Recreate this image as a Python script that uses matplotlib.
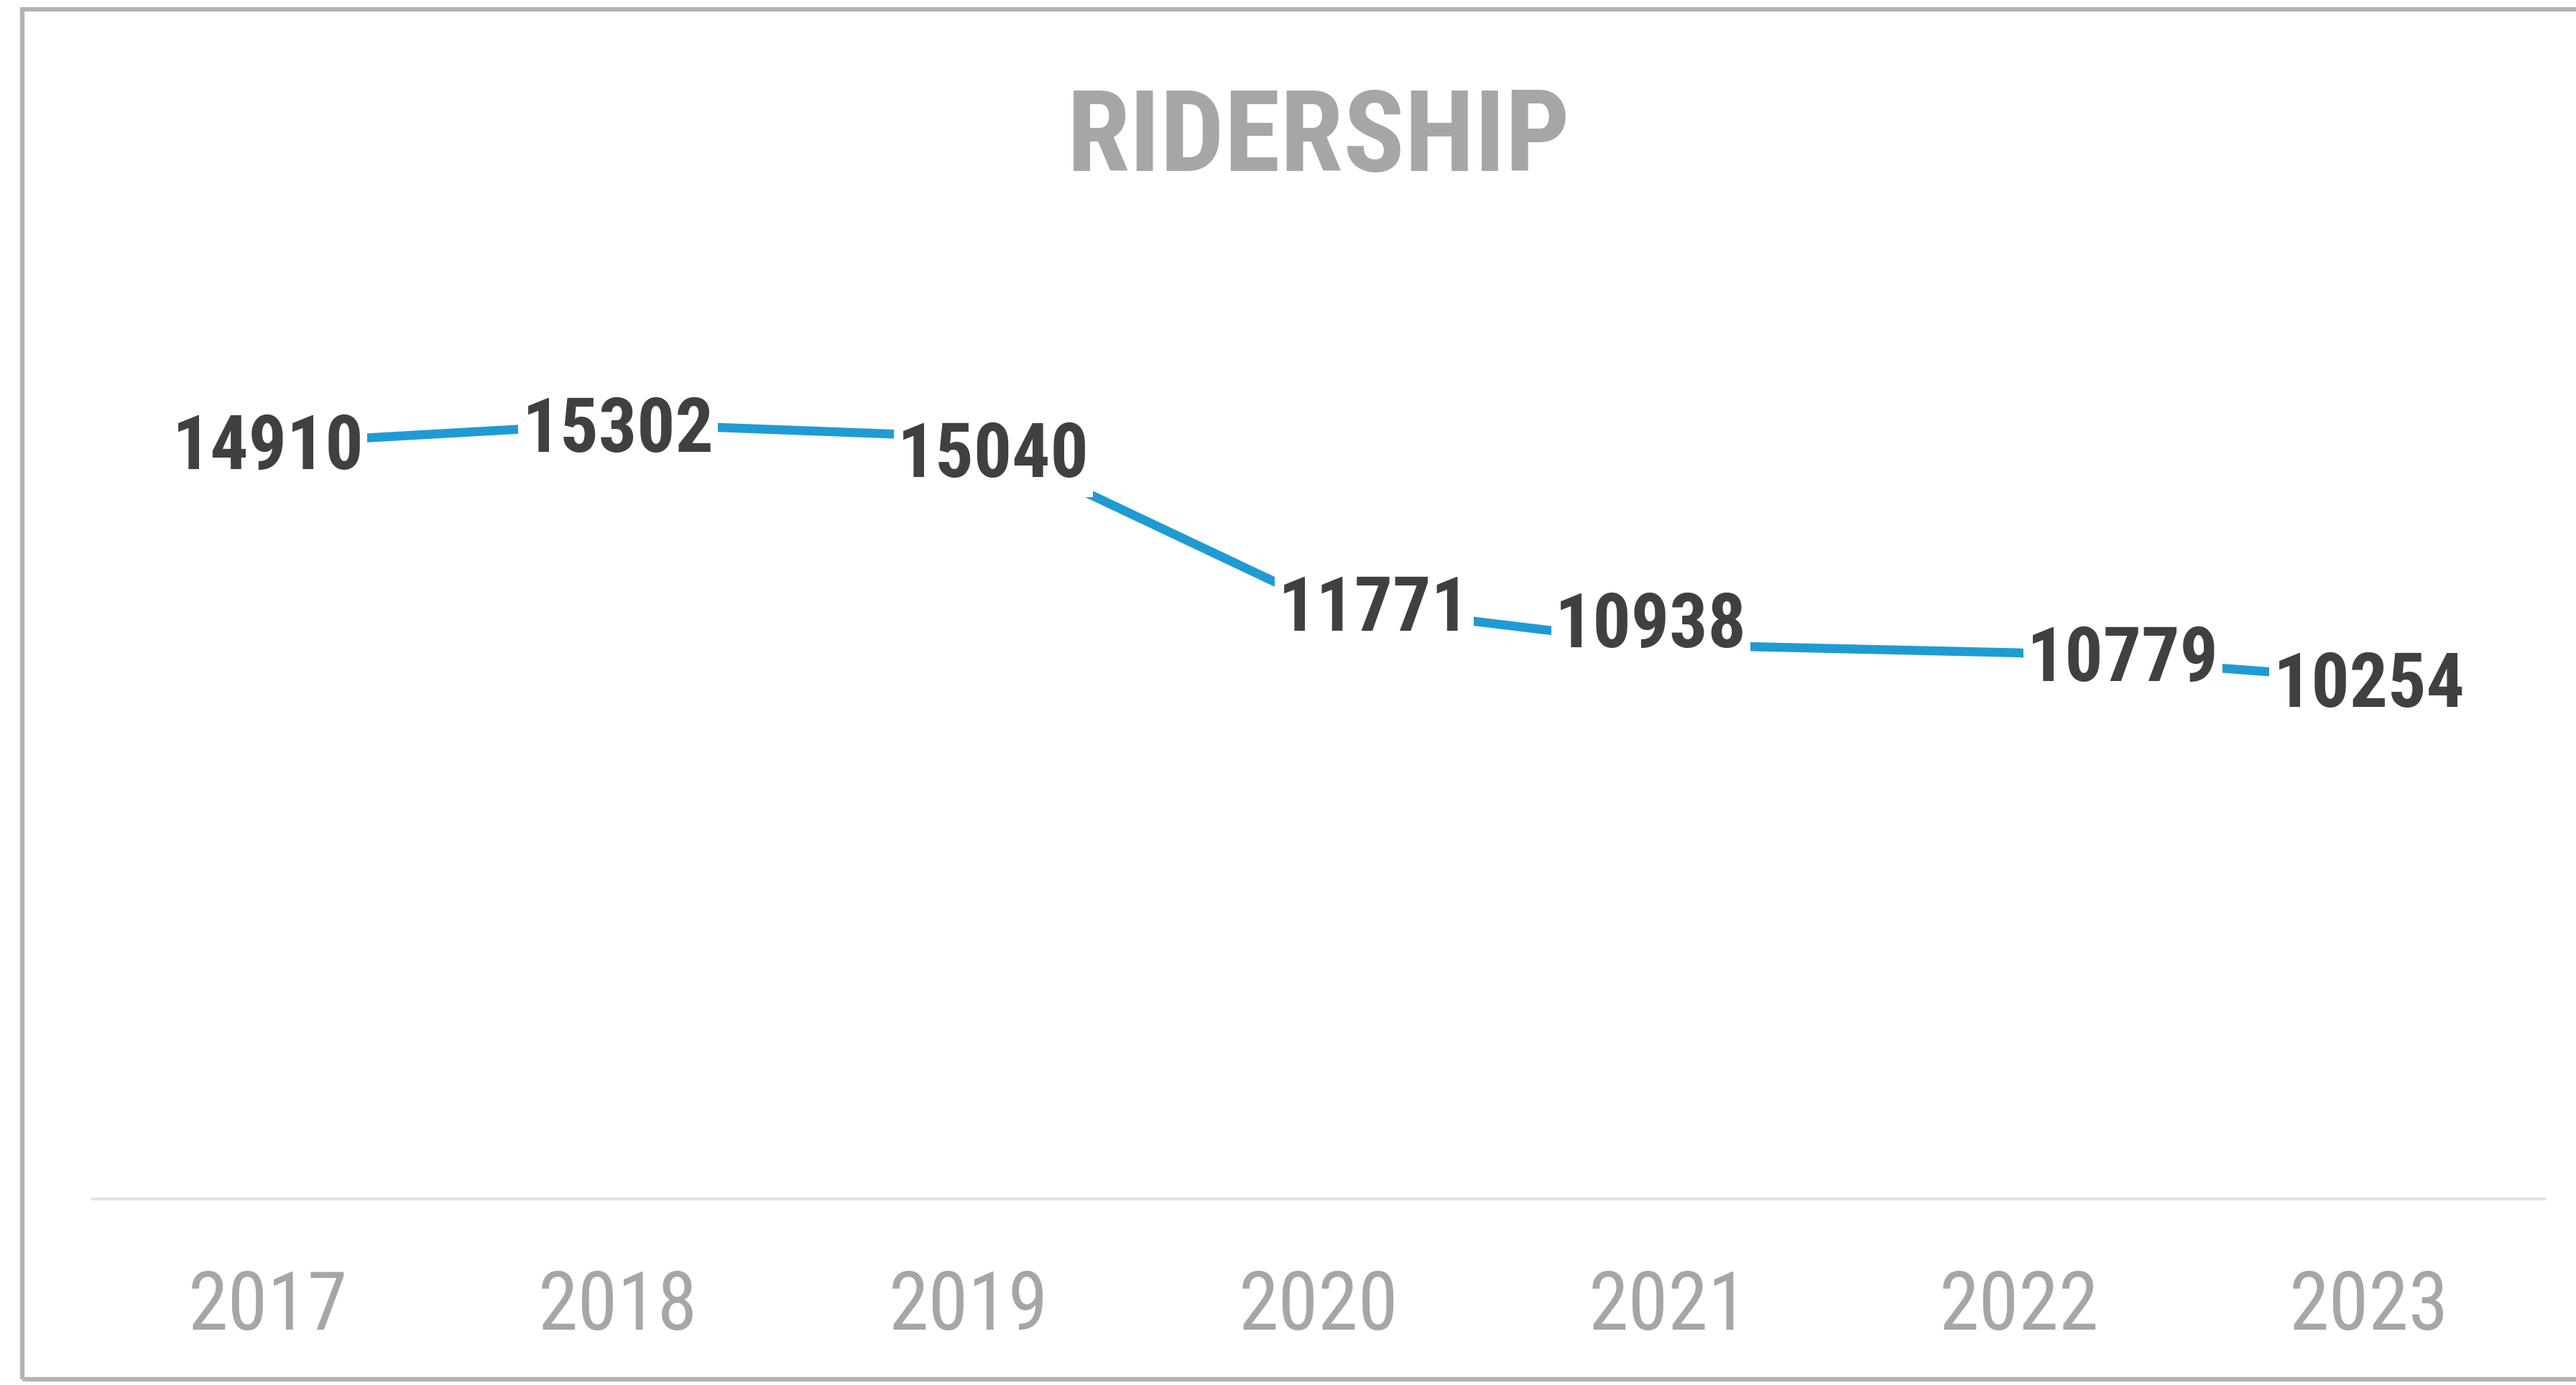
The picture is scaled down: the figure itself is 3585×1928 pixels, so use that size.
import matplotlib
matplotlib.use('Agg')
import matplotlib.pyplot as plt
from matplotlib.patches import Rectangle

years = ['2017', '2018', '2019', '2020', '2021', '2022', '2023']
ridership = [14910, 15302, 15040, 11771, 10938, 10779, 10254]

# where each data label sits relative to its point (points)
label_offsets = [(0, -5), (0, -8), (25, -20), (56, -8), (-18, 18), (104, -8), (0, -7)]

narrow = ['Roboto Condensed', 'Lato', 'DejaVu Sans']
line_color = '#1F9BD3'

fig = plt.figure(figsize=(35.85, 19.28), dpi=100)
fig.patch.set_facecolor('white')

# chart border (Excel style frame)
fig.patches.append(Rectangle((31 / 3585, 8 / 1928), 1.2, 1 - 8 / 1928 - 13 / 1928,
                             transform=fig.transFigure, fill=False,
                             edgecolor='#B4B4B4', linewidth=4.5))

ax = fig.add_axes([0.036, 0.1343, 0.9517, 0.7317])
x = list(range(len(years)))
ax.plot(x, ridership, color=line_color, linewidth=9, solid_capstyle='butt', zorder=2)

for i, v in enumerate(ridership):
    ax.annotate(str(v), (i, v), xytext=label_offsets[i], textcoords='offset points',
                ha='center', va='center', fontsize=76, fontweight='bold',
                family=narrow, color='#404040', zorder=3,
                bbox=dict(boxstyle='square,pad=0.05', fc='white', ec='none'))

ax.set_xlim(-0.5, len(years) - 0.5)
ax.set_ylim(0, 20000)
ax.set_yticks([])
ax.set_xticks(x)
ax.set_xticklabels(years, fontsize=81, family=narrow, color='#A6A6A6')
ax.tick_params(axis='x', length=0, pad=70)
for s in ['top', 'right', 'left']:
    ax.spines[s].set_visible(False)
ax.spines['bottom'].set_color('#E3E3E3')
ax.spines['bottom'].set_linewidth(3)
ax.set_facecolor('none')

fig.text(0.512, 0.899, 'RIDERSHIP', ha='center', va='center', fontsize=114,
         fontweight='bold', family=narrow, color='#A6A6A6')

fig.savefig('out.png', dpi=100, facecolor='white')
